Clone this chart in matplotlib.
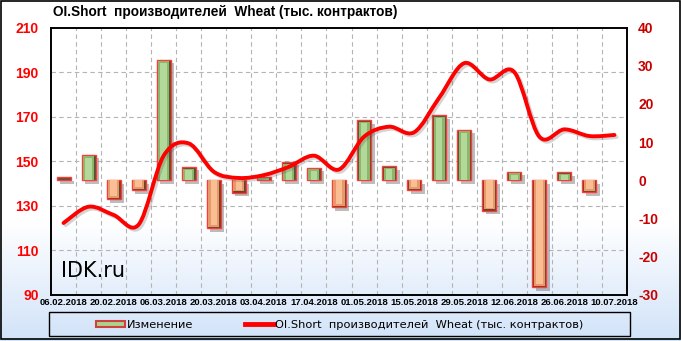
import numpy as np
import matplotlib
matplotlib.use("Agg")
import matplotlib.pyplot as plt
import matplotlib.patheffects as pe
import matplotlib.transforms as mtransforms
from matplotlib.path import Path
from matplotlib.patches import PathPatch, Rectangle, Patch
from matplotlib.lines import Line2D

# weekly report dates
dates = ["06.02.2018", "13.02.2018", "20.02.2018", "27.02.2018", "06.03.2018",
         "13.03.2018", "20.03.2018", "27.03.2018", "03.04.2018", "10.04.2018",
         "17.04.2018", "24.04.2018", "01.05.2018", "08.05.2018", "15.05.2018",
         "22.05.2018", "29.05.2018", "05.06.2018", "12.06.2018", "19.06.2018",
         "26.06.2018", "03.07.2018", "10.07.2018"]

# OI short of producers, thousand contracts (left axis)
oi_short = [122.3, 129.6, 125.9, 121.6, 152.5, 158.0, 145.3, 142.5, 143.8, 147.5,
            152.5, 146.3, 161.0, 165.5, 163.0, 178.5, 194.0, 186.7, 190.0, 161.0,
            164.3, 161.3, 161.8]

# weekly change (right axis)
change = [0.8, 6.7, -5.0, -2.6, 31.6, 3.5, -12.5, -3.2, 1.0, 4.8,
          3.3, -7.1, 15.7, 3.7, -2.6, 17.0, 13.3, -8.0, 2.3, -28.0,
          2.1, -3.1]

left_ticks = [90, 110, 130, 150, 170, 190, 210]
right_ticks = [-30, -20, -10, 0, 10, 20, 30, 40]

title = "OI.Short  производителей  Wheat (тыс. контрактов)"
legend_labels = ["Изменение", "OI.Short  производителей  Wheat (тыс. контрактов)"]

W, H = 681, 341
fig = plt.figure(figsize=(W / 100, H / 100), dpi=100)

# background: white fading to light blue at the bottom
bg = fig.add_axes([0, 0, 1, 1], zorder=-10)
rows = np.arange(H)
t = np.clip((rows - 220) / (H - 220), 0, 1)[:, None, None]
white = np.array([1.0, 1.0, 1.0])
blue = np.array([0.82, 0.89, 0.975])
img = white * (1 - t) + blue * t
bg.imshow(img, aspect="auto", extent=[0, 1, 0, 1], interpolation="bilinear")
bg.set_axis_off()
fig.add_artist(Rectangle((0.5 / W, 2 / H), 1 - 1.5 / W, 1 - 2.5 / H, transform=fig.transFigure,
                         fill=False, edgecolor="black", lw=1.2))

# bars axis (right scale)
ax = fig.add_axes([51 / W, 1 - 295 / H, 576 / W, 267.5 / H])
ax.patch.set_visible(False)
ax_line = ax.twinx()
ax.yaxis.tick_right()
ax_line.yaxis.tick_left()
ax_line.set_zorder(ax.get_zorder() + 1)
ax_line.patch.set_visible(False)

x_all = np.arange(len(dates))
x_bar = np.arange(len(change))

grid_kw = dict(color="#b4b4b4", linewidth=0.8, linestyle=(0, (4, 3)))
ax.set_xticks(np.arange(0.5, len(dates) - 1, 1), minor=True)
ax.grid(which="minor", axis="x", **grid_kw)
hl = mtransforms.blended_transform_factory(ax.transAxes, ax_line.transData)
for v in left_ticks[1:-1]:
    ax.plot([0, 1], [v, v], transform=hl, zorder=0.5, **grid_kw)

vals = np.array(change)
pos = vals >= 0
sgn = np.sign(vals)
shadow = [pe.SimplePatchShadow(offset=(2.5, -2.5), shadow_rgbFace="#444444", alpha=0.35), pe.Normal()]
ax.bar(x_bar, vals, width=0.56, color=np.where(pos, "#4f5530", "#6a4428"),
       edgecolor="#ff3a3a", linewidth=1.0, zorder=2, path_effects=shadow)
h_mid = np.where(np.abs(vals) > 0.8, vals - sgn * 0.4, 0)
ax.bar(x_bar, h_mid, width=0.44, color=np.where(pos, "#8db66c", "#e59a6c"), linewidth=0, zorder=3)
h_in = np.where(np.abs(vals) > 1.6, vals - sgn * 0.8, 0)
ax.bar(x_bar, h_in, width=0.26, color=np.where(pos, "#b2d99a", "#fbbd92"), linewidth=0, zorder=4)

ax.set_ylim(-30, 40)
ax.set_yticks(right_ticks)
ax.set_yticklabels([str(v) for v in right_ticks], color="#c80000", fontsize=10,
                   fontweight="bold", family="Liberation Sans")
ax.tick_params(axis="y", length=0, pad=8)
ax.set_xlim(-0.5, len(dates) - 0.5)
ax.set_xticks(x_all[::2])
ax.set_xticklabels(dates[::2], fontsize=6.8, fontweight="bold", family="Liberation Sans")
ax.tick_params(axis="x", which="both", length=0, pad=2)

# smooth line through the points (Catmull-Rom as cubic Bezier)
px = x_all.astype(float)
py = np.array(oi_short)
verts = [(px[0], py[0])]
codes = [Path.MOVETO]
n = len(px)
for i in range(n - 1):
    p0 = (px[max(i - 1, 0)], py[max(i - 1, 0)])
    p1 = (px[i], py[i])
    p2 = (px[i + 1], py[i + 1])
    p3 = (px[min(i + 2, n - 1)], py[min(i + 2, n - 1)])
    c1 = (p1[0] + (p2[0] - p0[0]) / 6, p1[1] + (p2[1] - p0[1]) / 6)
    c2 = (p2[0] - (p3[0] - p1[0]) / 6, p2[1] - (p3[1] - p1[1]) / 6)
    verts += [c1, c2, p2]
    codes += [Path.CURVE4] * 3
line = PathPatch(Path(verts, codes), facecolor="none", edgecolor="#ff0000", lw=2.8,
                 capstyle="round", joinstyle="round", zorder=5,
                 path_effects=[pe.SimpleLineShadow(offset=(1.5, -1.5), shadow_color="#555555", alpha=0.25),
                               pe.Normal()])
ax_line.add_patch(line)
ax_line.set_ylim(90, 210)
ax_line.set_yticks(left_ticks)
ax_line.set_yticklabels([str(v) for v in left_ticks], color="#ff0000", fontsize=10,
                        fontweight="bold", family="Liberation Sans")
ax_line.tick_params(axis="y", length=0, pad=9)

for a in (ax, ax_line):
    for s in a.spines.values():
        s.set_linewidth(1.2)
        s.set_color("black")

ax.text(61 / W, 1 - 271 / H, "IDK.ru", transform=fig.transFigure, fontsize=15,
        ha="left", va="center", color="black", family="DejaVu Sans")

fig.text(53 / W, 1 - 12 / H, title, fontsize=9.8, fontweight="bold", ha="left", va="center",
         family="Liberation Sans")

# legend box
fig.add_artist(Rectangle((49 / W, 1 - 336 / H), 581 / W, 24 / H, transform=fig.transFigure,
                         fill=False, edgecolor="black", lw=1.0))
handles = [Patch(facecolor="#a9d38c", edgecolor="#d04040", linewidth=1.5),
           Line2D([], [], color="#ff0000", lw=3.5)]
fig.legend(handles, legend_labels, loc="center", bbox_to_anchor=(340 / W, 1 - 325 / H),
           ncol=2, frameon=False, handlelength=2.5, handleheight=0.5, handletextpad=0.15,
           columnspacing=4.6, prop={"family": "DejaVu Sans", "size": 8.2})

fig.savefig("out.png", dpi=100)
